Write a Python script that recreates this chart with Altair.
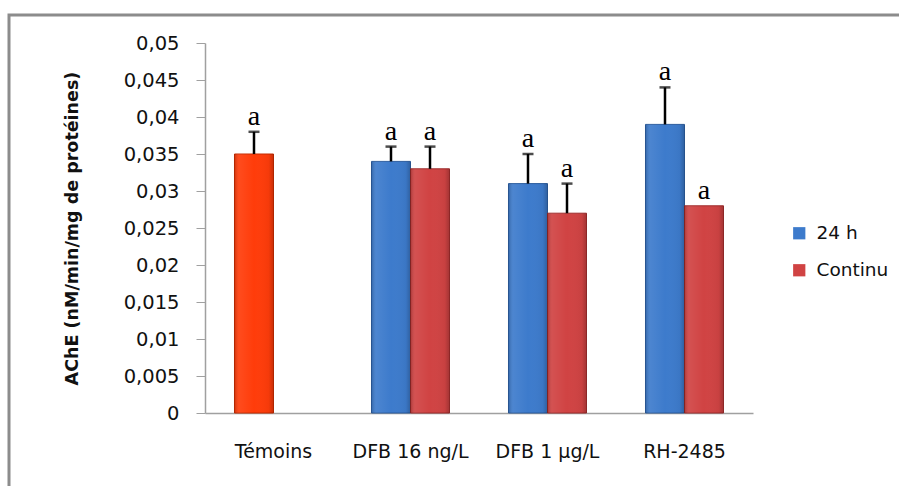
import altair as alt
import pandas as pd

# Treatment groups shown on the x axis
categories = ["Témoins", "DFB 16 ng/L", "DFB 1 µg/L", "RH-2485"]

# One entry per bar
groups = ["Témoins", "DFB 16 ng/L", "DFB 16 ng/L", "DFB 1 µg/L", "DFB 1 µg/L", "RH-2485", "RH-2485"]
series = ["Témoins", "24 h", "Continu", "24 h", "Continu", "24 h", "Continu"]
slots = ["24 h", "24 h", "Continu", "24 h", "Continu", "24 h", "Continu"]
means = [0.035, 0.034, 0.033, 0.031, 0.027, 0.039, 0.028]
errors = [0.003, 0.002, 0.003, 0.004, 0.004, 0.005, 0.0]
letters = ["a", "a", "a", "a", "a", "a", "a"]

y_ticks = [0, 0.005, 0.01, 0.015, 0.02, 0.025, 0.03, 0.035, 0.04, 0.045, 0.05]

df = pd.DataFrame({
    "groupe": groups,
    "serie": series,
    "slot": slots,
    "moyenne": means,
    "erreur": errors,
    "lettre": letters,
})
df["haut"] = df["moyenne"] + df["erreur"]

W, H = 548, 370

x_axis = alt.Axis(title=None, labelAngle=0, ticks=False, labelPadding=29,
                  labelFontSize=19, labelFont="DejaVu Sans", labelColor="#111",
                  domainColor="#a0a0a0", domainWidth=1.5)
x_scale = alt.Scale(domain=categories, paddingInner=0, paddingOuter=0)
xo_enc = alt.XOffset("slot:N", scale=alt.Scale(domain=["24 h", "Continu"],
                                                paddingInner=0, paddingOuter=0.756))
y_scale = alt.Scale(domain=[0, 0.05], nice=False, zero=True)
y_axis = alt.Axis(values=y_ticks, tickCount=11, grid=False, labelOverlap=False,
                  labelExpr="replace(format(datum.value, '.3~f'), '.', ',')",
                  labelFont="DejaVu Sans", labelFontSize=19.5, labelColor="#111",
                  labelPadding=17, tickSize=9, tickColor="#a0a0a0",
                  domainColor="#a0a0a0", domainWidth=1.5,
                  title="AChE (nM/min/mg de protéines)",
                  titleFont="DejaVu Sans", titleFontSize=17.5, titleFontWeight="bold",
                  titleColor="#111", titleX=-133, titleY=185,
                  titleBaseline="middle", titleAngle=-90)


def x_enc():
    return alt.X("groupe:N", sort=categories, scale=x_scale, axis=x_axis)


def y_enc(field):
    return alt.Y(field, scale=y_scale, axis=y_axis)


base = alt.Chart(df)

bars = base.mark_bar(strokeWidth=1).encode(
    x=x_enc(),
    xOffset=xo_enc,
    y=y_enc("moyenne:Q"),
    color=alt.Color("serie:N",
                    scale=alt.Scale(domain=["Témoins", "24 h", "Continu"],
                                    range=["#ff3c0a", "#3d7bcc", "#d04343"]),
                    legend=alt.Legend(values=["24 h", "Continu"], title=None,
                                      orient="none", legendX=585, legendY=181,
                                      symbolType="square", symbolSize=150,
                                      symbolStrokeWidth=0, labelFont="DejaVu Sans",
                                      labelFontSize=18.5, labelColor="#111",
                                      rowPadding=18, labelOffset=8)),
    stroke=alt.Color("serie:N",
                     scale=alt.Scale(domain=["Témoins", "24 h", "Continu"],
                                     range=["#c52a00", "#2b5c9e", "#9e2c2c"]),
                     legend=None),
)

# Soft bevel shading laid over each bar
shade = base.mark_bar(
    fill=alt.Gradient(
        gradient="linear", x1=0, x2=1, y1=0, y2=0,
        stops=[
            alt.GradientStop(offset=0, color="rgba(0,0,0,0.18)"),
            alt.GradientStop(offset=0.12, color="rgba(255,255,255,0.08)"),
            alt.GradientStop(offset=0.5, color="rgba(255,255,255,0.0)"),
            alt.GradientStop(offset=0.88, color="rgba(0,0,0,0.04)"),
            alt.GradientStop(offset=1, color="rgba(0,0,0,0.22)"),
        ],
    )
).encode(
    x=x_enc(),
    xOffset=xo_enc,
    y=y_enc("moyenne:Q"),
)

err_line = base.mark_rule(color="black", strokeWidth=2.5).encode(
    x=x_enc(),
    xOffset=xo_enc,
    y=y_enc("moyenne:Q"),
    y2="haut:Q",
)

caps = base.transform_filter("datum.erreur > 0").mark_tick(
    color="black", thickness=2.5, size=11
).encode(
    x=x_enc(),
    xOffset=xo_enc,
    y=y_enc("haut:Q"),
)

labels = base.mark_text(font="Liberation Serif", fontSize=28, color="black",
                        baseline="alphabetic", dy=-7).encode(
    x=x_enc(),
    xOffset=xo_enc,
    y=y_enc("haut:Q"),
    text="lettre:N",
)

frame = alt.Chart(pd.DataFrame({"k": [0]})).mark_rect(
    fillOpacity=0, stroke="#8c8c8c", strokeWidth=3
).encode(
    x=alt.value(-196), x2=alt.value(W + 300),
    y=alt.value(-28), y2=alt.value(H + 300),
)

chart = alt.layer(bars, shade, err_line, caps, labels, frame).properties(
    width=W, height=H,
    autosize=alt.AutoSizeParams(type="none"),
    padding={"left": 205, "top": 43, "right": 146, "bottom": 73},
    background="white",
).configure_view(stroke=None)

chart.save("out.html", embed_options={"renderer": "svg", "actions": False})
